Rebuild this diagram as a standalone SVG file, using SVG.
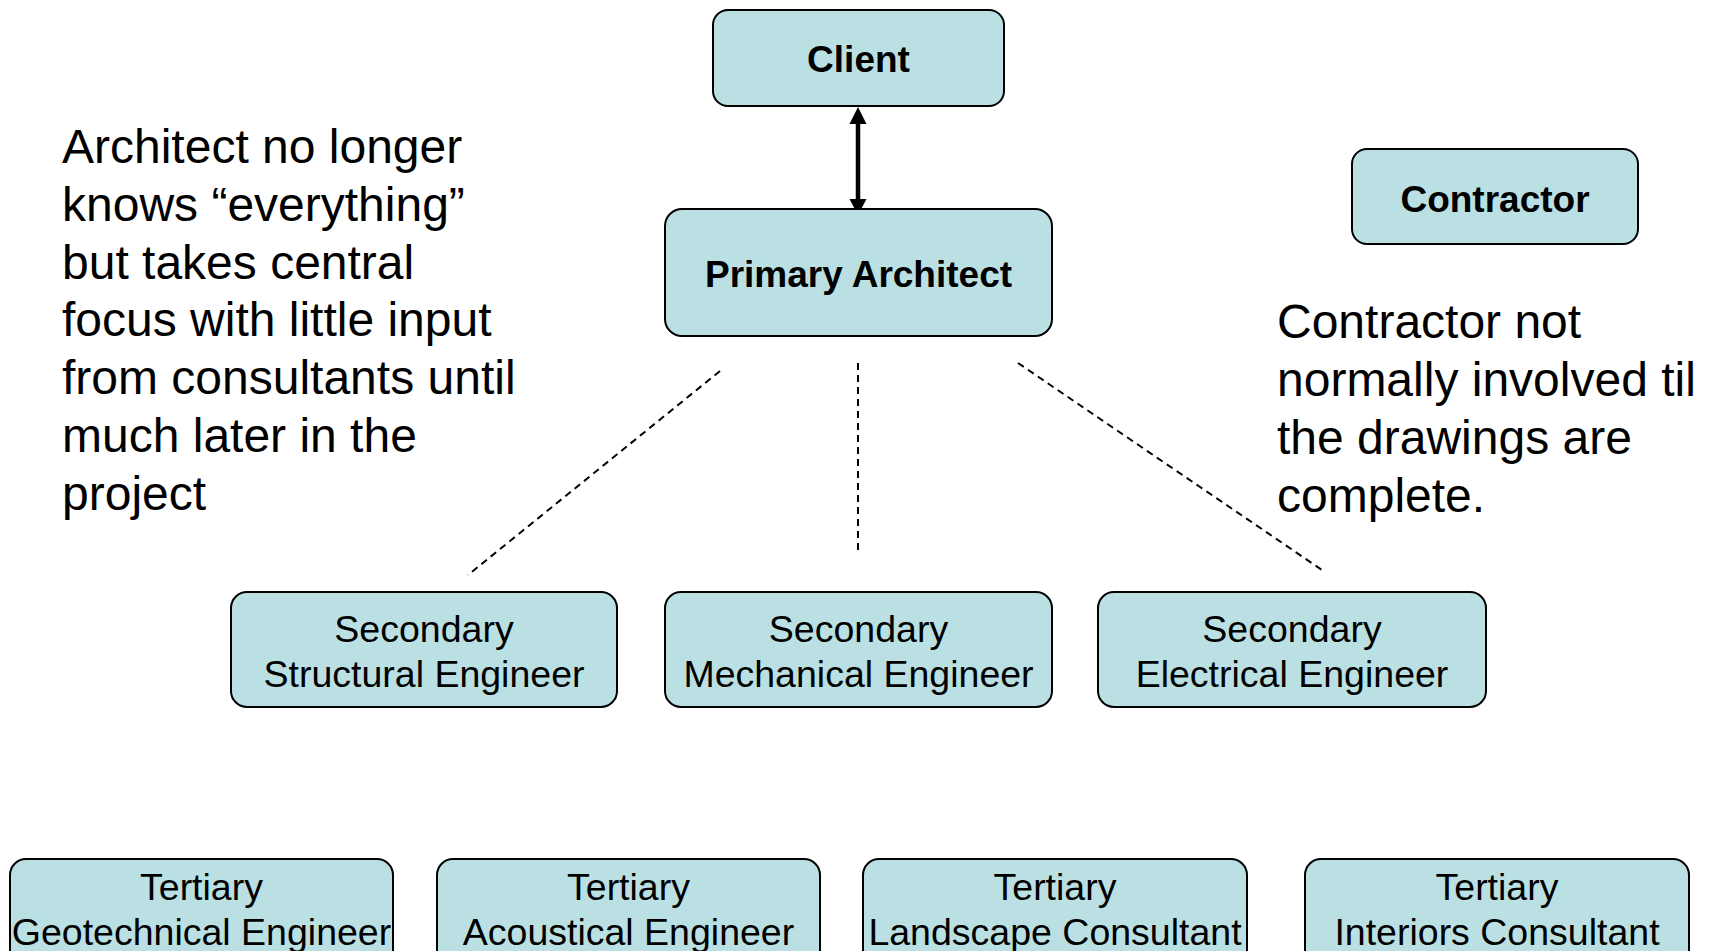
<svg xmlns="http://www.w3.org/2000/svg" width="1709" height="951" viewBox="0 0 1709 951">
<style>
.box{fill:#BAE0E3;stroke:#000;stroke-width:2}
.t{font-family:"Liberation Sans",Arial,sans-serif;font-size:37.5px;fill:#000;text-anchor:middle}
.b{font-family:"Liberation Sans",Arial,sans-serif;font-size:37px;font-weight:bold;fill:#000;text-anchor:middle}
.p{font-family:"Liberation Sans",Arial,sans-serif;font-size:48px;fill:#000}
.dash{stroke:#000;stroke-width:2;stroke-dasharray:7 5;fill:none}
</style>
<rect width="1709" height="951" fill="#fff"/>
<g id="connectors">
<line x1="858" y1="120" x2="858" y2="203" stroke="#000" stroke-width="4.5"/>
<polygon points="858,107 849.5,124 866.5,124" fill="#000"/>
<polygon points="858,215 849.5,199 866.5,199" fill="#000"/>
<line class="dash" x1="720" y1="371" x2="468" y2="575"/>
<line class="dash" x1="858" y1="363" x2="858" y2="552"/>
<line class="dash" x1="1018" y1="363" x2="1322" y2="570"/>
</g>
<g id="client">
<rect class="box" x="713" y="10" width="291" height="96" rx="15"/>
<text class="b" x="858.5" y="72">Client</text>
</g>
<g id="primary-architect">
<rect class="box" x="665" y="209" width="387" height="127" rx="17"/>
<text class="b" x="858.5" y="287">Primary Architect</text>
</g>
<g id="contractor">
<rect class="box" x="1352" y="149" width="286" height="95" rx="15"/>
<text class="b" x="1495" y="212">Contractor</text>
</g>
<g id="note-architect">
<text class="p" x="62" y="163">Architect no longer</text>
<text class="p" x="62" y="221">knows “everything”</text>
<text class="p" x="62" y="279">but takes central</text>
<text class="p" x="62" y="336">focus with little input</text>
<text class="p" x="62" y="394">from consultants until</text>
<text class="p" x="62" y="452">much later in the</text>
<text class="p" x="62" y="510">project</text>
</g>
<g id="note-contractor">
<text class="p" x="1277" y="338">Contractor not</text>
<text class="p" x="1277" y="396">normally involved til</text>
<text class="p" x="1277" y="454">the drawings are</text>
<text class="p" x="1277" y="512">complete.</text>
</g>
<g id="secondary-structural">
<rect class="box" x="231" y="592" width="386" height="115" rx="16"/>
<text class="t" x="424" y="642">Secondary</text>
<text class="t" x="424" y="687">Structural Engineer</text>
</g>
<g id="secondary-mechanical">
<rect class="box" x="665" y="592" width="387" height="115" rx="16"/>
<text class="t" x="858.5" y="642">Secondary</text>
<text class="t" x="858.5" y="687">Mechanical Engineer</text>
</g>
<g id="secondary-electrical">
<rect class="box" x="1098" y="592" width="388" height="115" rx="16"/>
<text class="t" x="1292" y="642">Secondary</text>
<text class="t" x="1292" y="687">Electrical Engineer</text>
</g>
<g id="tertiary-geotechnical">
<rect class="box" x="10" y="859" width="383" height="120" rx="16"/>
<text class="t" x="201.5" y="900">Tertiary</text>
<text class="t" x="201.5" y="945">Geotechnical Engineer</text>
</g>
<g id="tertiary-acoustical">
<rect class="box" x="437" y="859" width="383" height="120" rx="16"/>
<text class="t" x="628.5" y="900">Tertiary</text>
<text class="t" x="628.5" y="945">Acoustical Engineer</text>
</g>
<g id="tertiary-landscape">
<rect class="box" x="863" y="859" width="384" height="120" rx="16"/>
<text class="t" x="1055" y="900">Tertiary</text>
<text class="t" x="1055" y="945">Landscape Consultant</text>
</g>
<g id="tertiary-interiors">
<rect class="box" x="1305" y="859" width="384" height="120" rx="16"/>
<text class="t" x="1497" y="900">Tertiary</text>
<text class="t" x="1497" y="945">Interiors Consultant</text>
</g>
</svg>
